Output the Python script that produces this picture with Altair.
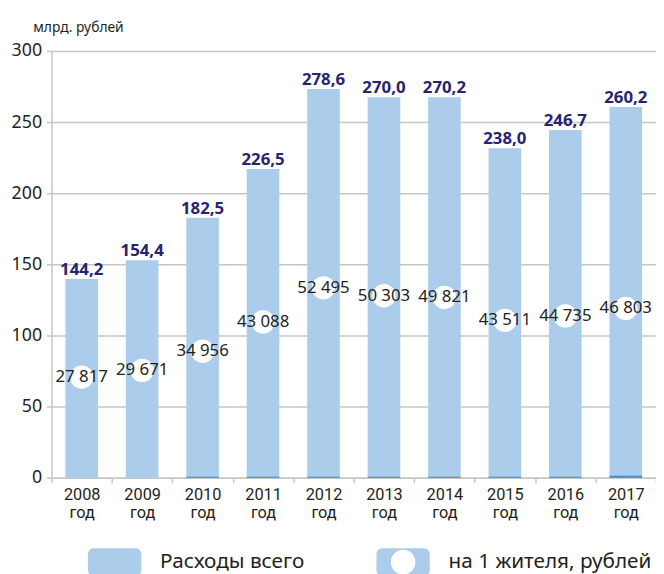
import altair as alt
import pandas as pd

# ---- data ----
years = ["2008", "2009", "2010", "2011", "2012", "2013", "2014", "2015", "2016", "2017"]
bar_heights = [139.7, 152.9, 182.8, 217.0, 273.3, 267.5, 267.5, 231.6, 244.4, 260.6]
total_labels = ["144,2", "154,4", "182,5", "226,5", "278,6", "270,0", "270,2", "238,0", "246,7", "260,2"]
base_part = [0.0, 0.0, 0.7, 0.7, 0.7, 0.7, 0.7, 0.7, 0.7, 1.4]
per_capita = [27817, 29671, 34956, 43088, 52495, 50303, 49821, 43511, 44735, 46803]
legend_names = ["Расходы всего", "на 1 жителя, рублей"]
y_ticks = [0, 50, 100, 150, 200, 250, 300]
unit_title = "млрд. рублей"

LIGHT = "#abcdeb"
DARK = "#3a8ccc"
NAVY = "#27246f"
INK = "#231f20"
GRID = "#c6c6c6"
FONT = "Noto Sans"

df = pd.DataFrame({
    "year": years,
    "bar": bar_heights,
    "label": total_labels,
    "base": base_part,
    "pc": per_capita,
    "pc_label": [f"{v:,}".replace(",", " ") for v in per_capita],
})
df_leg = pd.DataFrame({"name": legend_names})

x_axis = alt.Axis(
    title=None,
    labelExpr="datum.label ? [datum.label, 'год'] : ''",
    labelFont="Roboto",
    labelFontSize=16.5,
    labelLineHeight=18,
    labelColor=INK,
    labelPadding=4,
    labelAngle=0,
    tickBand="extent",
    tickSize=5,
    tickColor=GRID,
    tickWidth=1.5,
    domainColor=GRID,
    domainWidth=1.5,
    grid=False,
)
x_enc = alt.X("year:N", sort=years, scale=alt.Scale(paddingInner=0, paddingOuter=0), axis=x_axis)

y_axis = alt.Axis(
    values=y_ticks,
    title=unit_title,
    titleAngle=0,
    titleAlign="left",
    titleBaseline="alphabetic",
    titleX=-19,
    titleY=-20,
    titleFont=FONT,
    titleFontSize=14,
    titleFontWeight="normal",
    titleColor=INK,
    labelFont=FONT,
    labelFontSize=18,
    labelColor=INK,
    labelPadding=5,
    tickSize=5,
    tickColor=GRID,
    tickWidth=1.5,
    domainColor=GRID,
    domainWidth=1.5,
    gridColor=GRID,
    gridWidth=1.5,
)
y_scale = alt.Scale(domain=[0, 300])

base = alt.Chart(df)

bars = base.mark_bar(color=LIGHT, width=alt.RelativeBandSize(0.54)).encode(
    x=x_enc, y=alt.Y("bar:Q", scale=y_scale, axis=y_axis)
)
thin = base.mark_bar(color=DARK, width=alt.RelativeBandSize(0.54)).encode(
    x=x_enc, y=alt.Y("base:Q", scale=y_scale, axis=y_axis)
)
vals = base.mark_text(
    font=FONT, fontSize=17, fontWeight="bold", color=NAVY, baseline="alphabetic", dy=-4
).encode(x=x_enc, y=alt.Y("bar:Q", scale=y_scale, axis=y_axis), text="label:N")

y_pc = alt.Y("pc:Q", scale=alt.Scale(domain=[0, 118000]), axis=None)
circles = base.mark_circle(color="white", opacity=1, size=560).encode(x=x_enc, y=y_pc)
pc_text = base.mark_text(font=FONT, fontSize=17, color=INK, baseline="middle").encode(
    x=x_enc, y=y_pc, text="pc_label:N"
)

rect_path = ("M-0.78,-0.52 H0.78 A0.22,0.22 0 0 1 1,-0.3 V0.3 A0.22,0.22 0 0 1 0.78,0.52 "
             "H-0.78 A0.22,0.22 0 0 1 -1,0.3 V-0.3 A0.22,0.22 0 0 1 -0.78,-0.52 Z")
hole_path = rect_path + " M0,-0.46 A0.46,0.46 0 0 0 0,0.46 A0.46,0.46 0 0 0 0,-0.46 Z"

leg = alt.Legend(
    title=None,
    orient="none",
    legendX=37,
    legendY=490,
    direction="horizontal",
    symbolSize=2916,
    symbolStrokeWidth=0,
    symbolOpacity=1,
    labelFont=FONT,
    labelFontSize=21,
    labelColor=INK,
    labelOffset=19,
    labelLimit=400,
    columnPadding=73,
)
legend_layer = alt.Chart(df_leg).mark_point(filled=True, opacity=0).encode(
    color=alt.Color("name:N", scale=alt.Scale(domain=legend_names, range=[LIGHT, LIGHT]), legend=leg),
    shape=alt.Shape("name:N", scale=alt.Scale(domain=legend_names, range=[rect_path, hole_path]), legend=leg),
)

main = alt.layer(bars, thin, vals)
second = alt.layer(circles, pc_text, legend_layer)

chart = (
    alt.layer(main, second)
    .resolve_scale(y="independent")
    .properties(
        width=612,
        height=432,
        autosize=alt.AutoSizeParams(type="none"),
        padding={"left": 44, "top": 40, "right": 0, "bottom": 94},
        background="white",
    )
    .configure_view(stroke=None)
)

chart.save("out.html", embed_options={"renderer": "svg", "actions": False})
